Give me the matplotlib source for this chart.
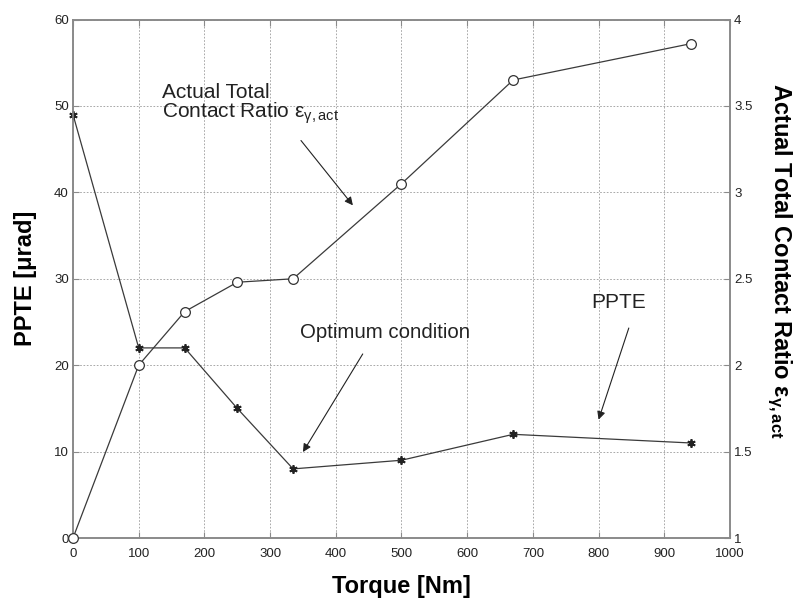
import matplotlib
matplotlib.use("Agg")
import matplotlib.pyplot as plt
from matplotlib.ticker import FormatStrFormatter

plt.rcParams['font.family'] = ['Liberation Sans', 'DejaVu Sans']
plt.rcParams['mathtext.fontset'] = 'custom'
plt.rcParams['mathtext.rm'] = 'Liberation Sans'
plt.rcParams['mathtext.it'] = 'Liberation Sans:italic'
plt.rcParams['mathtext.bf'] = 'Liberation Sans:bold'

# Data
torque = [0, 100, 170, 250, 335, 500, 670, 940]
ppte = [49, 22, 22, 15, 8, 9, 12, 11]
contact_ratio = [1.0, 2.0, 2.31, 2.48, 2.5, 3.05, 3.65, 3.86]

x_ticks = [0, 100, 200, 300, 400, 500, 600, 700, 800, 900, 1000]
y_left_ticks = [0, 10, 20, 30, 40, 50, 60]
y_right_ticks = [1, 1.5, 2, 2.5, 3, 3.5, 4]

frame_col = '#8a8a8a'
line_col = '#3a3a3a'

fig = plt.figure(figsize=(8.05, 5.99), dpi=100)
ax1 = fig.add_axes([0.0907, 0.1018, 0.8161, 0.8656])
ax2 = ax1.twinx()

ax1.plot(torque, ppte, color=line_col, lw=0.9, marker=(6, 2, 0), ms=6,
         mfc='#222222', mec='#222222', mew=1.3, clip_on=False, zorder=3)
ax2.plot(torque, contact_ratio, color=line_col, lw=0.9, marker='o', ms=7,
         mfc='white', mec='#333333', mew=0.9, clip_on=False, zorder=3)

ax1.set_xlim(0, 1000)
ax1.set_ylim(0, 60)
ax2.set_ylim(1, 4)
ax1.set_xticks(x_ticks)
ax1.set_yticks(y_left_ticks)
ax2.set_yticks(y_right_ticks)
ax2.yaxis.set_major_formatter(FormatStrFormatter('%g'))

ax1.grid(True, linestyle=(0, (2, 2)), color='#9a9a9a', lw=0.6)
ax1.set_axisbelow(True)

for ax in (ax1, ax2):
    for sp in ax.spines.values():
        sp.set_color(frame_col)
        sp.set_linewidth(1.2)
    ax.tick_params(direction='in', length=4, width=0.8, color=frame_col,
                   labelsize=9.5, labelcolor='#222222', pad=3)
ax1.tick_params(top=True)
ax1.tick_params(axis='x', pad=7)

ax1.set_xlabel('Torque [Nm]', fontsize=17, fontweight='bold', labelpad=11)
ax1.set_ylabel('PPTE [μrad]', fontsize=17, fontweight='bold', labelpad=12)
ax2.set_ylabel(r'Actual Total Contact Ratio ε$_{\mathbf{γ,act}}$',
               fontsize=17, fontweight='bold', rotation=270)
ax2.yaxis.set_label_coords(1.097, 0.535)

arrow = dict(arrowstyle='-|>', color='#222222', lw=0.8, mutation_scale=12,
             shrinkA=0, shrinkB=0)

ax1.text(135, 51.6, 'Actual Total', fontsize=15, color='#222222',
         va='center', ha='left')
ax1.text(135, 49.2, r'Contact Ratio ε$_{\mathrm{γ,act}}$', fontsize=15,
         color='#222222', va='center', ha='left')
ax1.annotate('', xy=(426, 38.5), xytext=(347, 46), arrowprops=arrow)

ax1.text(345, 23.8, 'Optimum condition', fontsize=14.7, color='#222222',
         va='center', ha='left')
ax1.annotate('', xy=(350, 9.95), xytext=(441, 21.3), arrowprops=arrow)

ax1.text(830, 27.3, 'PPTE', fontsize=15, color='#222222',
         va='center', ha='center')
ax1.annotate('', xy=(800, 13.7), xytext=(846, 24.3), arrowprops=arrow)

fig.savefig('out.png', dpi=100)
